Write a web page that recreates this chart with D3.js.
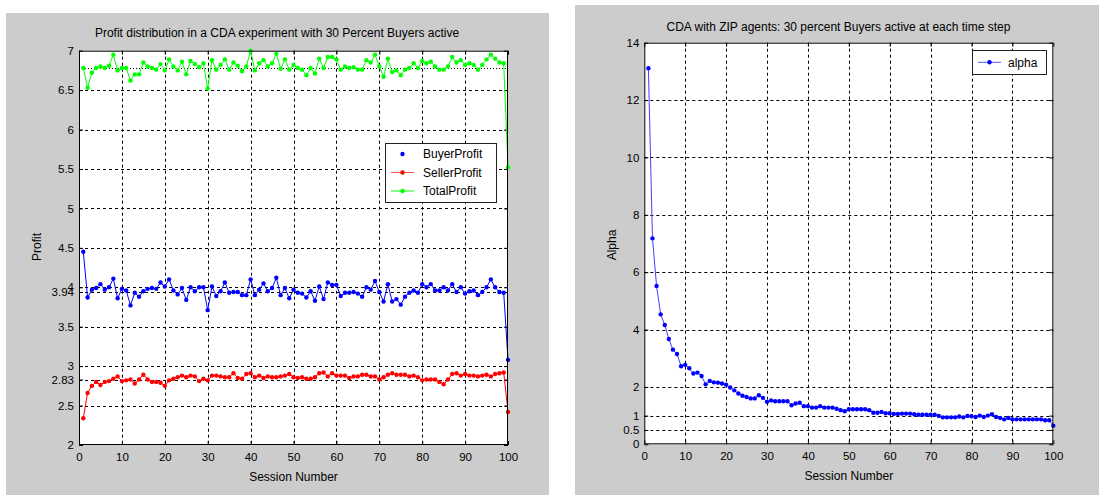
<!DOCTYPE html>
<html><head><meta charset="utf-8">
<script src="https://cdn.jsdelivr.net/npm/d3@7"></script>
<style>
body{margin:0;background:#fff}
svg{display:block}
text{font-family:"Liberation Sans",Arial,sans-serif;fill:#000}
</style>
</head><body>
<svg id="c" width="1099" height="495"></svg>
<script>
// ---------------- DATA ----------------
const sessions = d3.range(1, 101);
const xTicks = [0,10,20,30,40,50,60,70,80,90,100];

const buyerProfit = [
4.45,3.87,3.97,3.99,4.04,3.97,4.00,4.11,3.86,3.98,
3.96,3.77,3.93,3.88,3.95,3.98,3.99,3.98,4.06,4.01,
4.10,3.96,3.91,3.99,3.84,4.00,3.95,4.00,4.00,3.71,
4.01,3.89,3.95,4.06,3.93,3.94,3.94,3.90,3.90,4.10,
3.90,3.97,4.05,3.95,3.99,4.12,3.90,3.99,3.86,3.97,
3.93,3.92,3.87,3.95,3.83,4.01,3.85,4.06,4.03,4.03,
3.89,3.93,3.93,3.94,3.92,3.88,4.00,3.97,4.08,3.94,
3.82,4.04,3.82,3.85,3.78,3.88,3.93,3.96,3.93,4.04,
4.00,4.04,3.96,3.96,4.00,3.96,4.04,3.94,4.00,3.92,
3.95,3.96,3.90,3.94,4.00,4.10,4.00,3.94,3.93,3.08];

const sellerProfit = [
2.34,2.66,2.75,2.80,2.76,2.80,2.81,2.84,2.87,2.81,
2.82,2.83,2.78,2.83,2.89,2.83,2.80,2.80,2.79,2.75,
2.82,2.84,2.86,2.88,2.86,2.88,2.87,2.81,2.84,2.82,
2.88,2.88,2.87,2.86,2.86,2.91,2.85,2.84,2.90,2.91,
2.86,2.88,2.85,2.87,2.86,2.86,2.87,2.88,2.90,2.86,
2.85,2.86,2.84,2.84,2.86,2.91,2.92,2.87,2.91,2.88,
2.88,2.88,2.85,2.87,2.87,2.89,2.89,2.87,2.87,2.83,
2.86,2.89,2.91,2.89,2.89,2.89,2.87,2.88,2.86,2.82,
2.83,2.83,2.83,2.80,2.77,2.83,2.90,2.91,2.88,2.90,
2.88,2.88,2.87,2.88,2.89,2.87,2.90,2.91,2.92,2.42];

const totalProfit = [
6.78,6.53,6.72,6.78,6.80,6.78,6.81,6.95,6.75,6.78,
6.78,6.62,6.70,6.70,6.85,6.80,6.78,6.76,6.83,6.75,
6.89,6.80,6.75,6.86,6.70,6.87,6.83,6.79,6.84,6.52,
6.88,6.76,6.82,6.89,6.76,6.85,6.81,6.74,6.80,7.00,
6.75,6.84,6.88,6.80,6.84,6.96,6.77,6.89,6.76,6.82,
6.78,6.76,6.69,6.78,6.71,6.90,6.78,6.92,6.92,6.89,
6.76,6.80,6.78,6.79,6.76,6.76,6.88,6.85,6.95,6.80,
6.67,6.90,6.73,6.75,6.69,6.76,6.78,6.84,6.78,6.87,
6.84,6.86,6.80,6.76,6.76,6.80,6.92,6.85,6.88,6.82,
6.84,6.82,6.76,6.82,6.89,6.95,6.90,6.85,6.84,5.52];

const totalMeanLine = 6.78;
const profitYTicks = [2,2.5,2.83,3,3.5,3.94,4,4.5,5,5.5,6,6.5,7];
const profitYLabels = ["2","2.5","2.83","3","3.5","3.94","4","4.5","5","5.5","6","6.5","7"];

const alpha = [
13.11,7.18,5.52,4.53,4.16,3.67,3.30,3.15,2.72,2.77,
2.65,2.47,2.50,2.38,2.09,2.21,2.16,2.15,2.12,2.08,
1.98,1.88,1.77,1.69,1.65,1.60,1.60,1.71,1.62,1.48,
1.53,1.50,1.50,1.50,1.50,1.36,1.42,1.45,1.33,1.33,
1.28,1.28,1.33,1.28,1.28,1.28,1.24,1.19,1.15,1.22,
1.22,1.22,1.22,1.22,1.19,1.10,1.10,1.13,1.08,1.08,
1.06,1.06,1.07,1.07,1.07,1.05,1.03,1.03,1.03,1.03,
1.03,0.99,0.94,0.94,0.94,0.94,0.97,0.94,0.99,0.98,
0.95,1.00,0.95,1.00,1.05,0.95,0.92,0.87,0.92,0.87,
0.87,0.87,0.87,0.87,0.87,0.87,0.87,0.84,0.84,0.65];
const alphaYTicks = [0,0.5,1,2,4,6,8,10,12,14];
const alphaYLabels = ["0","0.5","1","2","4","6","8","10","12","14"];

// ---------------- DRAW ----------------
const svg = d3.select("#c");
svg.append("rect").attr("x",6).attr("y",13).attr("width",543).attr("height",482).attr("fill","#cccccc");
svg.append("rect").attr("x",575).attr("y",5).attr("width",524).attr("height",490).attr("fill","#cccccc");

function drawPanel(cfg){
  const g = svg.append("g");
  const x = d3.scaleLinear().domain([0,100]).range(cfg.xr);
  const y = d3.scaleLinear().domain(cfg.yd).range(cfg.yr);
  const [x0,x1] = cfg.xr, [y0,y1] = [cfg.yr[1], cfg.yr[0]];
  g.append("rect").attr("x",x0).attr("y",y0).attr("width",x1-x0).attr("height",y1-y0).attr("fill","#fff");
  // grid
  g.selectAll(".vg").data(xTicks.filter(t=>t>0&&t<100)).join("line")
    .attr("x1",d=>Math.round(x(d))+0.5).attr("x2",d=>Math.round(x(d))+0.5)
    .attr("y1",y0).attr("y2",y1).attr("stroke","#000").attr("stroke-dasharray","3,3");
  g.selectAll(".hg").data(cfg.yTicks.filter(t=>t>cfg.yd[0]&&t<cfg.yd[1])).join("line")
    .attr("x1",x0).attr("x2",x1)
    .attr("y1",d=>Math.round(y(d))+0.5).attr("y2",d=>Math.round(y(d))+0.5)
    .attr("stroke","#000").attr("stroke-dasharray","3,3");
  if(cfg.extra) cfg.extra(g,x,y);
  // axes
  const fmt = (d)=>cfg.yLabels[cfg.yTicks.indexOf(d)];
  const ax = (a,tr)=>{const s=g.append("g").attr("transform",tr).call(a);
    s.select(".domain").remove(); s.selectAll("line").attr("stroke","#000");
    s.selectAll("text").style("font-size","11.5px").style("font-family","'Liberation Sans',Arial,sans-serif");
    return s;};
  ax(d3.axisBottom(x).tickValues(xTicks).tickSize(-4).tickPadding(8), `translate(0,${y1})`);
  ax(d3.axisTop(x).tickValues(xTicks).tickSize(-4).tickFormat(""), `translate(0,${y0})`);
  ax(d3.axisLeft(y).tickValues(cfg.yTicks).tickSize(-4).tickPadding(5).tickFormat(fmt), `translate(${x0},0)`);
  ax(d3.axisRight(y).tickValues(cfg.yTicks).tickSize(-4).tickFormat(""), `translate(${x1},0)`);
  // series
  const line = d3.line().x((d,i)=>x(sessions[i])).y(d=>y(d));
  cfg.series.forEach(s=>{
    g.append("path").datum(s.values).attr("d",line).attr("fill","none")
      .attr("stroke",s.lineColor).attr("stroke-width",1);
    g.selectAll(null).data(s.values).join("circle")
      .attr("cx",(d,i)=>x(sessions[i])).attr("cy",d=>y(d)).attr("r",2.2).attr("fill",s.color);
  });
  // border
  g.append("rect").attr("x",x0+0.5).attr("y",y0+0.5).attr("width",x1-x0-1).attr("height",y1-y0-1)
    .attr("fill","none").attr("stroke","#000");
  // labels
  g.append("text").attr("x",cfg.title[1]).attr("y",cfg.title[2]).attr("text-anchor","middle")
    .style("font-size","12px").text(cfg.title[0]);
  g.append("text").attr("x",(x0+x1)/2).attr("y",y1+36).attr("text-anchor","middle")
    .style("font-size","12px").text("Session Number");
  g.append("text").attr("transform",`translate(${cfg.ylab[1]},${cfg.ylab[2]}) rotate(-90)`)
    .attr("text-anchor","middle").attr("dy","0.35em").style("font-size","12px").text(cfg.ylab[0]);
  // legend
  const L = cfg.legend;
  const lg = g.append("g");
  lg.append("rect").attr("x",L.x+0.5).attr("y",L.y+0.5).attr("width",L.w).attr("height",L.h)
    .attr("fill","#fff").attr("stroke","#222");
  L.items.forEach((it,i)=>{
    const cy = L.y + L.first + i*L.step;
    if(it.showLine) lg.append("line").attr("x1",L.x+6).attr("x2",L.x+29).attr("y1",cy).attr("y2",cy)
      .attr("stroke",it.lineColor);
    lg.append("circle").attr("cx",L.x+17.5).attr("cy",cy).attr("r",2.2).attr("fill",it.color);
    lg.append("text").attr("x",L.x+L.tx).attr("y",cy).attr("dy","0.35em").style("font-size","12px").text(it.name);
  });
}

drawPanel({
  xr:[79,508], yd:[2,7], yr:[445,50.7],
  yTicks: profitYTicks, yLabels: profitYLabels,
  title:["Profit distribution in a CDA experiment with 30 Percent Buyers active",277,37],
  ylab:["Profit",37,247],
  extra:(g,x,y)=>{
    g.append("line").attr("x1",x(0)).attr("x2",x(100))
      .attr("y1",Math.round(y(totalMeanLine))+0.5).attr("y2",Math.round(y(totalMeanLine))+0.5)
      .attr("stroke","#000").attr("stroke-dasharray","1,2");
  },
  series:[
    {values:totalProfit,color:"#00ff00",lineColor:"#00ff00"},
    {values:buyerProfit,color:"#0000ff",lineColor:"#0000ff"},
    {values:sellerProfit,color:"#ff0000",lineColor:"#ff0000"}
  ],
  legend:{x:385,y:143,w:111,h:59,first:11,step:18.5,tx:38,items:[
    {name:"BuyerProfit",color:"#0000ff",lineColor:"#0000ff",showLine:false},
    {name:"SellerProfit",color:"#ff0000",lineColor:"#ff5050",showLine:true},
    {name:"TotalProfit",color:"#00ff00",lineColor:"#00ff00",showLine:true}
  ]}
});

drawPanel({
  xr:[644.3,1053.3], yd:[0,14], yr:[444.3,42.7],
  yTicks: alphaYTicks, yLabels: alphaYLabels,
  title:["CDA with ZIP agents: 30 percent Buyers active at each time step",838.5,31],
  ylab:["Alpha",611.7,245],
  series:[{values:alpha,color:"#0000ff",lineColor:"#4040ff"}],
  legend:{x:972,y:50,w:74,h:24,first:12.3,step:18,tx:36,items:[
    {name:"alpha",color:"#0000ff",lineColor:"#5555ff",showLine:true}
  ]}
});
</script>
</body></html>
